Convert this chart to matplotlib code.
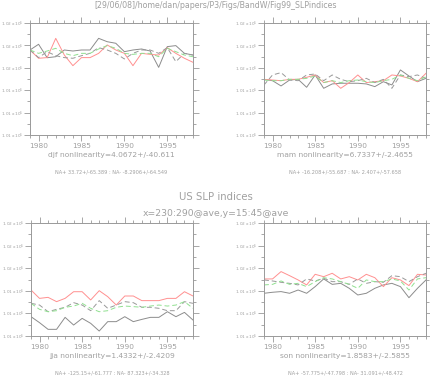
import numpy as np
import matplotlib
matplotlib.use('Agg')
import matplotlib.pyplot as plt
from matplotlib.ticker import MultipleLocator, FuncFormatter

years = np.arange(1979, 1999)

# djf
djf_solid = [101759, 101810, 101690, 101699, 101759, 101750, 101759, 101759, 101863, 101833,
             101819, 101744, 101759, 101768, 101750, 101604, 101789, 101798, 101729, 101714]
djf_red = [101759, 101685, 101691, 101863, 101714, 101619, 101691, 101691, 101729, 101804,
           101759, 101729, 101619, 101729, 101720, 101714, 101780, 101729, 101685, 101649]
djf_dash = [101759, 101691, 101744, 101708, 101691, 101685, 101708, 101729, 101780, 101759,
            101729, 101679, 101729, 101759, 101759, 101729, 101780, 101655, 101729, 101714]
djf_green = [101759, 101729, 101750, 101774, 101729, 101708, 101729, 101729, 101768, 101798,
             101774, 101729, 101720, 101729, 101729, 101699, 101774, 101744, 101714, 101699]

# mam
mam_solid = [101497, 101485, 101438, 101491, 101497, 101426, 101536, 101417, 101456, 101462,
             101462, 101462, 101456, 101432, 101476, 101447, 101581, 101527, 101476, 101506]
mam_red = [101497, 101491, 101485, 101497, 101497, 101515, 101536, 101468, 101485, 101417,
           101468, 101536, 101468, 101476, 101485, 101536, 101527, 101506, 101476, 101551]
mam_dash = [101447, 101536, 101557, 101491, 101485, 101536, 101545, 101485, 101536, 101497,
            101476, 101485, 101506, 101468, 101497, 101417, 101536, 101521, 101536, 101506]
mam_green = [101491, 101485, 101485, 101497, 101497, 101506, 101527, 101468, 101485, 101468,
             101485, 101491, 101476, 101468, 101485, 101497, 101536, 101506, 101485, 101521]

# jja
jja_solid = [101171, 101118, 101059, 101059, 101165, 101097, 101156, 101112, 101044, 101127,
             101127, 101171, 101127, 101147, 101165, 101165, 101215, 101171, 101209, 101141]
jja_red = [101407, 101333, 101342, 101304, 101333, 101392, 101392, 101319, 101401, 101348,
           101274, 101354, 101354, 101313, 101313, 101313, 101333, 101333, 101392, 101354]
jja_dash = [101289, 101274, 101215, 101236, 101254, 101295, 101274, 101224, 101313, 101245,
            101274, 101304, 101295, 101254, 101254, 101245, 101224, 101224, 101304, 101289]
jja_green = [101289, 101236, 101215, 101224, 101254, 101265, 101289, 101245, 101215, 101224,
             101254, 101265, 101260, 101254, 101265, 101274, 101265, 101274, 101304, 101245]

# son
son_solid = [101378, 101387, 101393, 101378, 101407, 101378, 101437, 101505, 101457, 101466,
             101422, 101363, 101378, 101422, 101452, 101466, 101437, 101339, 101422, 101496]
son_red = [101505, 101505, 101570, 101534, 101496, 101452, 101546, 101525, 101555, 101505,
           101525, 101496, 101546, 101516, 101437, 101516, 101496, 101446, 101546, 101540]
son_dash = [101496, 101487, 101475, 101466, 101452, 101505, 101487, 101511, 101481, 101481,
            101457, 101505, 101466, 101481, 101475, 101534, 101525, 101481, 101525, 101555]
son_green = [101452, 101457, 101487, 101457, 101466, 101437, 101481, 101516, 101505, 101481,
             101457, 101422, 101496, 101481, 101481, 101505, 101487, 101407, 101505, 101516]

titles = ['djf nonlinearity=4.0672+/-40.611',
          'mam nonlinearity=6.7337+/-2.4655',
          'jja nonlinearity=1.4332+/-2.4209',
          'son nonlinearity=1.8583+/-2.5855']
notes = ['NA+ 33.72+/-65.389 : NA- -8.2906+/-64.549',
         'NA+ -16.208+/-55.687 : NA- 2.407+/-57.658',
         'NA+ -125.15+/-61.777 : NA- 87.323+/-34.328',
         'NA+ -57.775+/-47.798 : NA- 31.091+/-48.472']

panels = [(djf_solid, djf_red, djf_dash, djf_green),
          (mam_solid, mam_red, mam_dash, mam_green),
          (jja_solid, jja_red, jja_dash, jja_green),
          (son_solid, son_red, son_dash, son_green)]

W, H = 431, 377
grey = '#999999'
txt = '#a0a0a0'

fig = plt.figure(figsize=(W / 100, H / 100), dpi=100)

# axes boxes in pixels: left, top, right, bottom
boxes = [(30, 23, 193, 135), (264, 23, 426, 135),
         (31, 223, 193, 336), (264, 223, 426, 336)]

fmt = FuncFormatter(lambda v, p: '%.2f x10$^5$' % (v / 1e5))

for k, (l, t, r, b) in enumerate(boxes):
    ax = fig.add_axes([l / W, 1 - b / H, (r - l) / W, (b - t) / H])
    s, red, d, g = panels[k]
    ax.plot(years, s, color='#8c8c8c', lw=0.7)
    ax.plot(years, red, color='#ff9090', lw=0.7)
    ax.plot(years, d, color='#999999', lw=0.7, dashes=(5, 3))
    ax.plot(years, g, color='#90e090', lw=0.7, dashes=(5, 3))
    ax.set_xlim(1979, 1998)
    ax.set_ylim(101000, 102000)
    ax.xaxis.set_major_locator(MultipleLocator(5))
    ax.xaxis.set_minor_locator(MultipleLocator(1))
    ax.yaxis.set_major_locator(MultipleLocator(200))
    ax.yaxis.set_minor_locator(MultipleLocator(100))
    ax.yaxis.set_major_formatter(fmt)
    ax.tick_params(which='both', direction='out', top=True, right=True,
                   color=grey, width=0.6)
    ax.tick_params(which='major', length=4)
    ax.tick_params(which='minor', length=2)
    ax.tick_params(axis='y', labelsize=3.1, labelcolor=txt, pad=1)
    ax.tick_params(axis='x', labelsize=5.3, labelcolor=txt, pad=1.5)
    for sp in ax.spines.values():
        sp.set_color(grey)
        sp.set_linewidth(0.7)
    cx = (l + r) / 2 / W
    fig.text(cx, 1 - (b + 20) / H, titles[k], ha='center', va='center',
             fontsize=5.4, color=txt)
    fig.text(cx, 1 - (b + 37) / H, notes[k], ha='center', va='center',
             fontsize=3.6, color=txt)

fig.text(0.5, 1 - 6 / H, '[29/06/08]/home/dan/papers/P3/Figs/BandW/Fig99_SLPindices',
         ha='center', va='center', fontsize=5.7, color=txt)
fig.text(0.5, 1 - 197 / H, 'US SLP indices', ha='center', va='center',
         fontsize=7.3, color=txt)
fig.text(0.5, 1 - 213 / H, 'x=230:290@ave,y=15:45@ave', ha='center', va='center',
         fontsize=6.7, color=txt)

fig.savefig('out.png', dpi=100)
